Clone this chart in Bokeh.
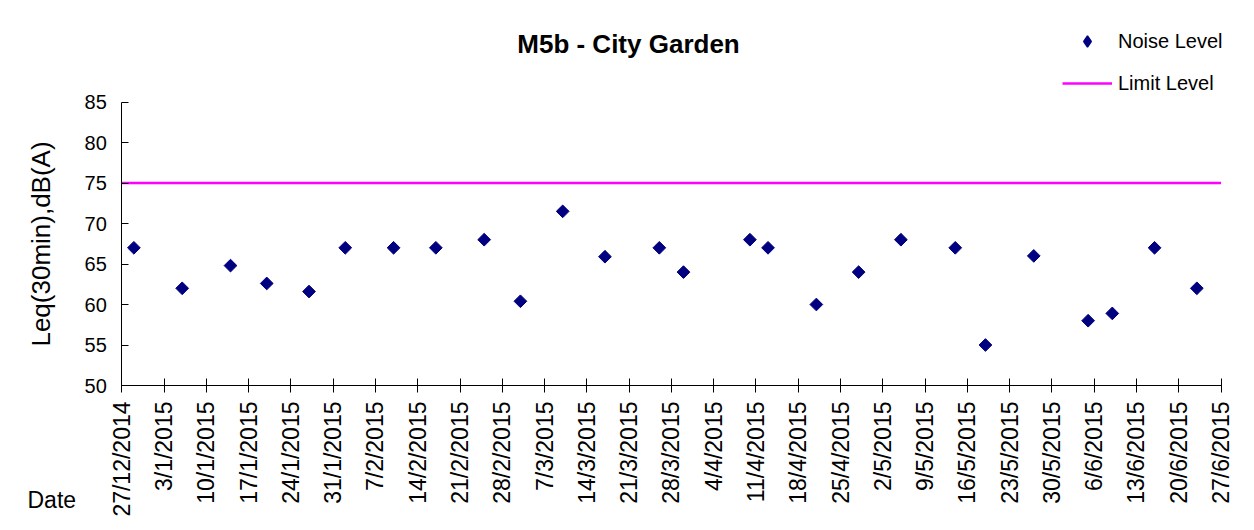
import math
import pandas as pd
from bokeh.plotting import figure
from bokeh.models import (Range1d, FixedTicker, Label, Legend, LegendItem,
                          ColumnDataSource)
from bokeh.embed import file_html
from bokeh.resources import INLINE

# ---- data ----
dates = ["2014-12-29", "2015-01-06", "2015-01-14", "2015-01-20", "2015-01-27",
         "2015-02-02", "2015-02-10", "2015-02-17", "2015-02-25", "2015-03-03",
         "2015-03-10", "2015-03-17", "2015-03-26", "2015-03-30", "2015-04-10",
         "2015-04-13", "2015-04-21", "2015-04-28", "2015-05-05", "2015-05-14",
         "2015-05-19", "2015-05-27", "2015-06-05", "2015-06-09", "2015-06-16",
         "2015-06-23"]
noise_level = [67, 62, 64.8, 62.6, 61.6, 67, 67, 67, 68, 60.4,
               71.5, 65.9, 67, 64, 68, 67, 60, 64, 68, 67,
               55, 66, 58, 58.9, 67, 62]
limit_dates = ["2014-12-27", "2015-06-27"]
limit_level = [75, 75]
tick_labels = ["27/12/2014", "3/1/2015", "10/1/2015", "17/1/2015", "24/1/2015",
               "31/1/2015", "7/2/2015", "14/2/2015", "21/2/2015", "28/2/2015",
               "7/3/2015", "14/3/2015", "21/3/2015", "28/3/2015", "4/4/2015",
               "11/4/2015", "18/4/2015", "25/4/2015", "2/5/2015", "9/5/2015",
               "16/5/2015", "23/5/2015", "30/5/2015", "6/6/2015", "13/6/2015",
               "20/6/2015", "27/6/2015"]
y_ticks = [50, 55, 60, 65, 70, 75, 80, 85]
y_min, y_max = 50, 85

FONT = "Liberation Sans"
W, H = 1246, 522
NAVY = "#000080"
MAGENTA = "#FF00FF"


def ms(ts):
    return float(pd.Timestamp(ts).value // 10**6)


x0 = ms(limit_dates[0])
x1 = ms(limit_dates[1])

# layout: plot area occupies pixels [121.3, 1220.5] x [101.5, 385] of the canvas
PX_L, PX_R, PX_T, PX_B = 121.3, 1220.5, 101.5, 385.0
px_per_ms = (PX_R - PX_L) / (x1 - x0)
px_per_y = (PX_B - PX_T) / (y_max - y_min)
xr = Range1d(x0 - PX_L / px_per_ms, x1 + (W - PX_R) / px_per_ms)
yr = Range1d(y_min - (H - PX_B) / px_per_y, y_max + PX_T / px_per_y)

p = figure(width=W, height=H, x_axis_type="datetime", title=None,
           x_range=xr, y_range=yr,
           output_backend="svg", toolbar_location=None,
           min_border=0, min_border_left=0, min_border_right=0,
           min_border_top=0, min_border_bottom=0)
p.grid.visible = False
p.outline_line_color = None
p.background_fill_color = "white"
p.border_fill_color = "white"

# x axis
tick_ms = [ms(pd.to_datetime(t, format="%d/%m/%Y")) for t in tick_labels]
xa = p.xaxis[0]
xa.fixed_location = y_min
xa.bounds = (x0, x1)
xa.ticker = FixedTicker(ticks=tick_ms)
xa.major_label_overrides = {t: lab for t, lab in zip(tick_ms, tick_labels)}
xa.major_label_orientation = math.pi / 2
xa.major_label_text_font = FONT
xa.major_label_text_font_size = "23px"
xa.major_label_text_color = "black"
xa.major_label_standoff = 9
xa.major_tick_in = 7
xa.major_tick_out = 7
xa.minor_tick_line_color = None
xa.axis_line_color = "black"
xa.major_tick_line_color = "black"

# y axis
ya = p.yaxis[0]
ya.fixed_location = x0
ya.bounds = (y_min, y_max)
ya.ticker = FixedTicker(ticks=y_ticks)
ya.major_label_text_font = FONT
ya.major_label_text_font_size = "20px"
ya.major_label_text_color = "black"
ya.major_label_standoff = 15
ya.major_tick_in = 7
ya.major_tick_out = 0
ya.minor_tick_line_color = None
ya.axis_line_color = "black"
ya.major_tick_line_color = "black"
ya.axis_label = "Leq(30min),dB(A)"
ya.axis_label_text_font = FONT
ya.axis_label_text_font_size = "26px"
ya.axis_label_text_font_style = "normal"
ya.axis_label_text_color = "black"
ya.axis_label_standoff = 25

# glyphs
src = ColumnDataSource(data=dict(x=[ms(d) for d in dates], y=noise_level))
r_limit = p.line(x=[ms(d) for d in limit_dates], y=limit_level,
                 line_color=MAGENTA, line_width=2.5)
# diamond core of each point (also used as the legend key, since legend keys
# ignore marker angle); fully covered by the rotated squares drawn on top
r_noise_key = p.scatter(x="x", y="y", source=src, marker="diamond", size=8,
                        fill_color=NAVY, line_color=NAVY, line_width=1.5)
r_noise = p.scatter(x="x", y="y", source=src, marker="square",
                    angle=math.pi / 4, size=9,
                    fill_color=NAVY, line_color=NAVY)

legend = Legend(items=[LegendItem(label="Noise Level", renderers=[r_noise_key]),
                       LegendItem(label="Limit Level", renderers=[r_limit])],
                location=(1062, H - 97), orientation="vertical",
                glyph_width=50, glyph_height=28, label_height=28,
                spacing=14, padding=0, margin=0, label_standoff=6,
                border_line_color=None, background_fill_alpha=0,
                label_text_font=FONT, label_text_font_size="20px",
                label_text_color="black")
p.add_layout(legend)

# title and "Date" label (positions in data units of the same scales)
p.add_layout(Label(x=x0 + (628 - PX_L) / px_per_ms, y=y_max + (PX_T - 43) / px_per_y,
                   text="M5b - City Garden",
                   text_align="center", text_baseline="middle",
                   text_font=FONT, text_font_style="bold",
                   text_font_size="26px", text_color="black"))
p.add_layout(Label(x=x0 - (PX_L - 27) / px_per_ms, y=y_min - (499 - PX_B) / px_per_y,
                   text="Date",
                   text_align="left", text_baseline="middle",
                   text_font=FONT, text_font_size="23px", text_color="black"))

open("out.html", "w").write(file_html(p, INLINE))
